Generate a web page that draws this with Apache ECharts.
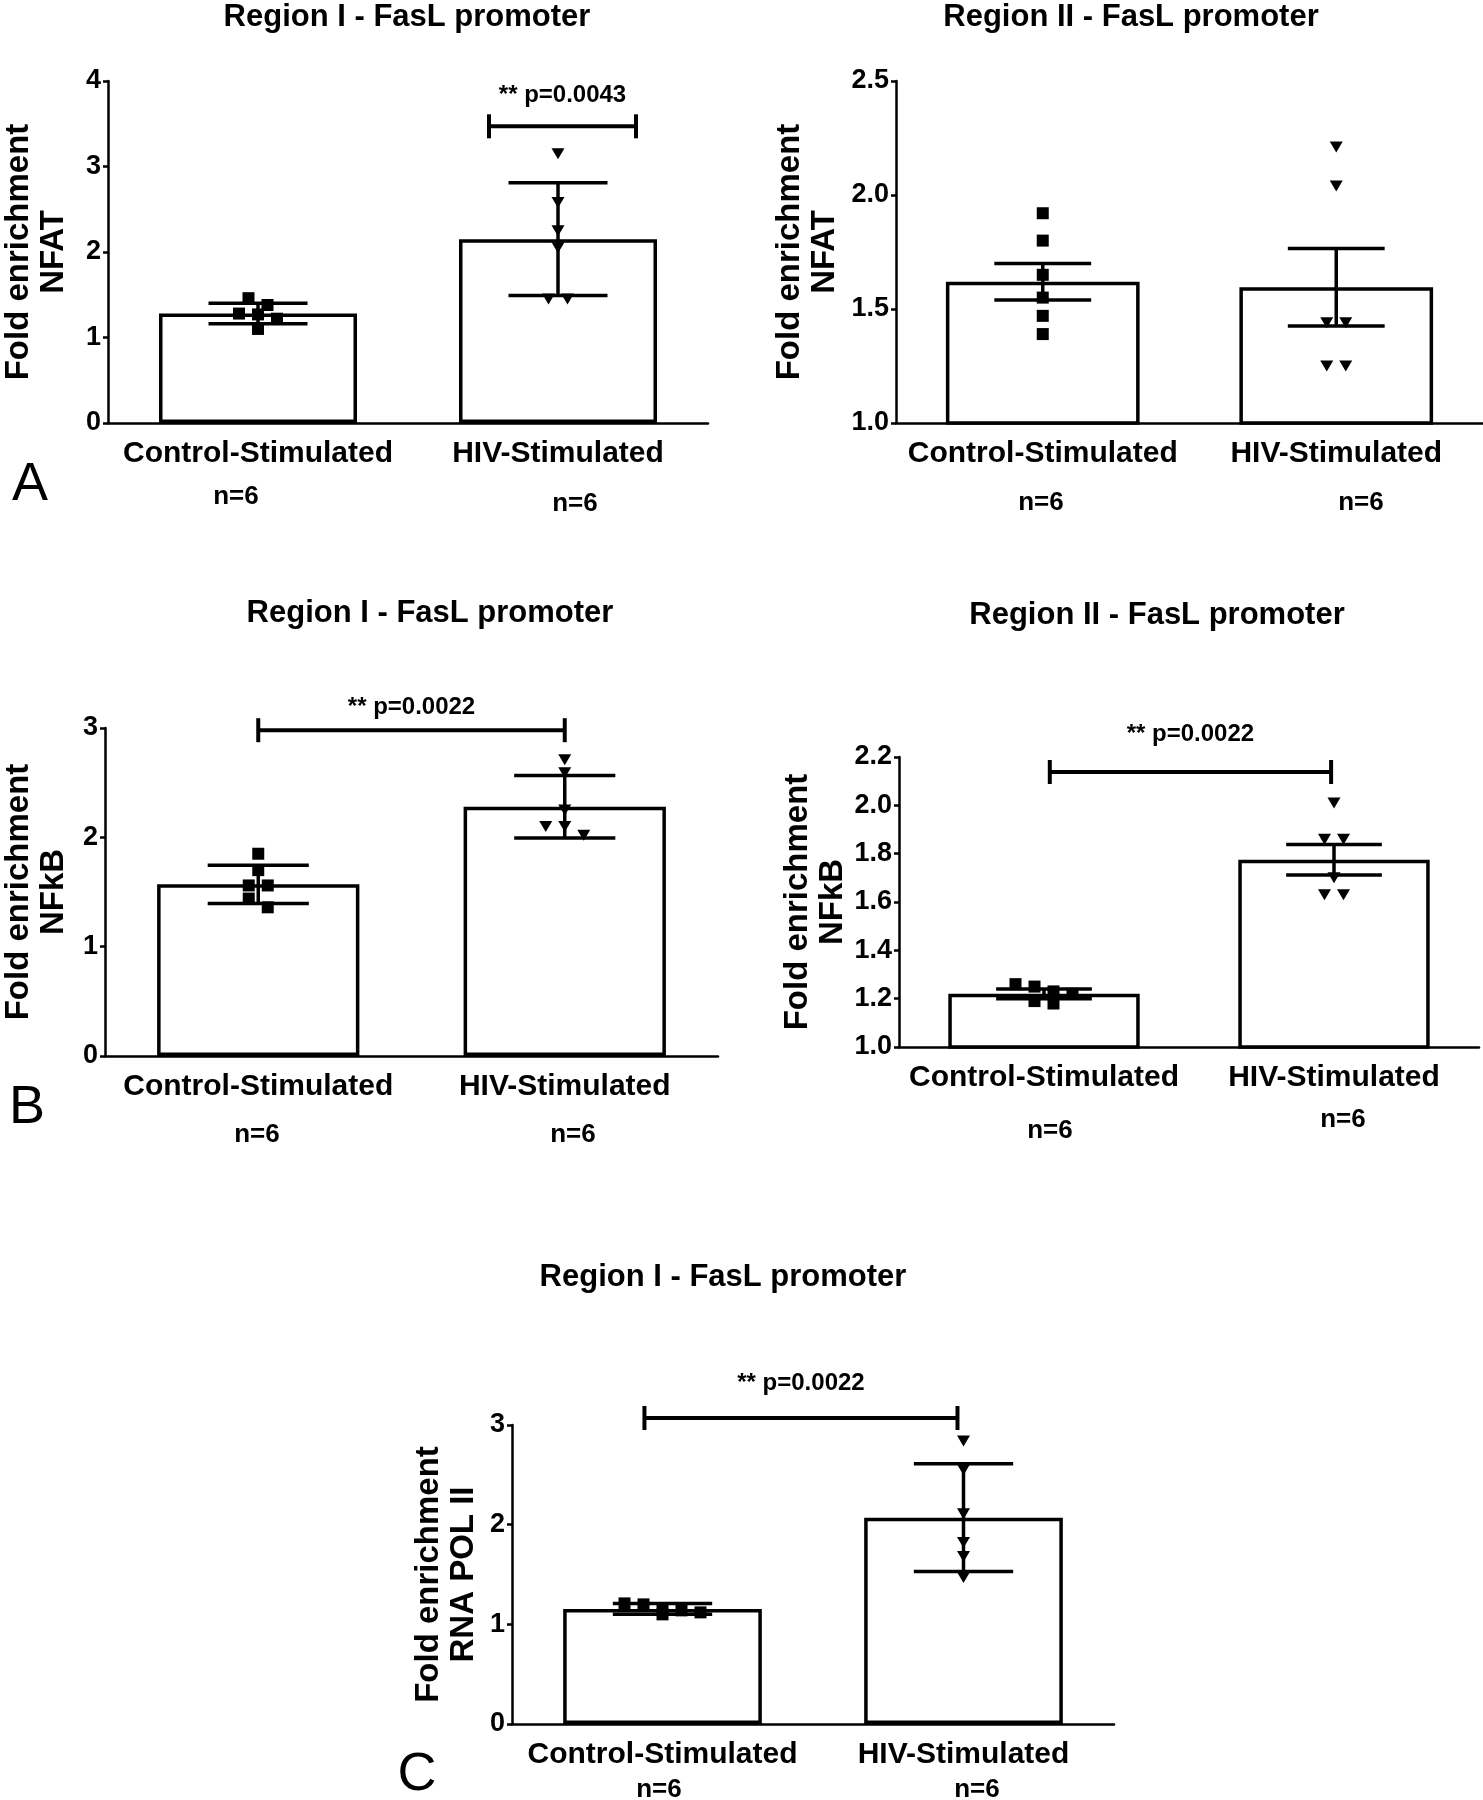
<!DOCTYPE html>
<html><head><meta charset="utf-8">
<script src="https://cdn.jsdelivr.net/npm/echarts@6.0.0/dist/echarts.min.js"></script>
<style>html,body{margin:0;padding:0;background:#fff}#c{width:1483px;height:1800px}</style>
</head><body><div id="c"></div>
<script>
// ---------------- data ----------------
const categories = ['Control-Stimulated', 'HIV-Stimulated'];
const titles = ['Region I - FasL promoter', 'Region II - FasL promoter', 'Region I - FasL promoter', 'Region II - FasL promoter', 'Region I - FasL promoter'];
const yLabels = ['Fold enrichment\nNFAT', 'Fold enrichment\nNFAT', 'Fold enrichment\nNFkB', 'Fold enrichment\nNFkB', 'Fold enrichment\nRNA POL II'];
const panelLetters = ['A', 'B', 'C'];

// A left: NFAT, region I (mean +/- SD)
const nfatR1Mean = [1.28, 2.15];
const nfatR1Err = [0.12, 0.66];
const nfatR1Ctrl = [1.46, 1.38, 1.28, 1.27, 1.22, 1.10];
const nfatR1Hiv = [3.15, 2.58, 2.25, 2.05, 1.45, 1.45];
const nfatR1Bracket = [0.77, 1.26, 3.47];
const nfatR1P = '** p=0.0043';
const nfatR1Ticks = [0, 4, 1];

// A right: NFAT, region II (mean +/- SEM)
const nfatR2Mean = [1.62, 1.595];
const nfatR2Err = [0.08, 0.17];
const nfatR2Ctrl = [1.92, 1.80, 1.65, 1.55, 1.47, 1.39];
const nfatR2Hiv = [2.21, 2.04, 1.44, 1.44, 1.25, 1.25];
const nfatR2Ticks = [1.0, 2.5, 0.5];

// B left: NFkB, region I
const nfkbR1Mean = [1.57, 2.28];
const nfkbR1Err = [0.175, 0.285];
const nfkbR1Ctrl = [1.85, 1.70, 1.56, 1.56, 1.44, 1.36];
const nfkbR1Hiv = [2.71, 2.59, 2.25, 2.10, 2.10, 2.02];
const nfkbR1Bracket = [0.0, 1.0, 2.98];
const nfkbR1P = '** p=0.0022';
const nfkbR1Ticks = [0, 3, 1];

// B right: NFkB, region II
const nfkbR2Mean = [1.22, 1.775];
const nfkbR2Err = [0.02, 0.063];
const nfkbR2Ctrl = [1.25, 1.18, 1.23, 1.19, 1.26, 1.22];
const nfkbR2Hiv = [2.01, 1.86, 1.86, 1.70, 1.63, 1.63];
const nfkbR2Bracket = [0.02, 0.99, 2.138];
const nfkbR2P = '** p=0.0022';
const nfkbR2Ticks = [1.0, 2.2, 0.2];

// C: RNA POL II, region I
const polR1Mean = [1.155, 2.07];
const polR1Err = [0.055, 0.54];
const polR1Ctrl = [1.21, 1.20, 1.14, 1.12, 1.10, 1.15];
const polR1Hiv = [2.84, 2.55, 2.11, 1.82, 1.68, 1.47];
const polR1Bracket = [-0.06, 0.98, 3.07];
const polR1P = '** p=0.0022';
const polR1Ticks = [0, 3, 1];

// ---------------- layout / style ----------------
const FONT = '"Liberation Sans", Arial, sans-serif';
const panels = [
  {grid: {left: 100, top: 81, width: 608, height: 342}, ticks: nfatR1Ticks, dec: 0,
   mean: nfatR1Mean, err: nfatR1Err, ctrl: nfatR1Ctrl, hiv: nfatR1Hiv, bracket: nfatR1Bracket, p: nfatR1P, pOff: 31,
   ylabel: yLabels[0], nameGap: 37, title: [407, 17], nPos: [[236, 497], [575, 504]]},
  {grid: {left: 896, top: 81, width: 590, height: 342}, ticks: nfatR2Ticks, dec: 1,
   mean: nfatR2Mean, err: nfatR2Err, ctrl: nfatR2Ctrl, hiv: nfatR2Hiv, bracket: null,
   ylabel: yLabels[1], nameGap: 54, title: [1131, 17], nPos: [[1041, 503], [1361, 503]]},
  {grid: {left: 98, top: 728, width: 620, height: 328}, ticks: nfkbR1Ticks, dec: 0,
   mean: nfkbR1Mean, err: nfkbR1Err, ctrl: nfkbR1Ctrl, hiv: nfkbR1Hiv, bracket: nfkbR1Bracket, p: nfkbR1P, pOff: 23,
   ylabel: yLabels[2], nameGap: 34, title: [430, 613], nPos: [[257, 1135], [573, 1135]]},
  {grid: {left: 899, top: 757, width: 580, height: 290}, ticks: nfkbR2Ticks, dec: 1,
   mean: nfkbR2Mean, err: nfkbR2Err, ctrl: nfkbR2Ctrl, hiv: nfkbR2Hiv, bracket: nfkbR2Bracket, p: nfkbR2P, pOff: 38,
   ylabel: yLabels[3], nameGap: 41, title: [1157, 615], nPos: [[1050, 1131], [1343, 1120]]},
  {grid: {left: 512, top: 1425, width: 602, height: 299}, ticks: polR1Ticks, dec: 0,
   mean: polR1Mean, err: polR1Err, ctrl: polR1Ctrl, hiv: polR1Hiv, bracket: polR1Bracket, p: polR1P, pOff: 35,
   ylabel: yLabels[4], nameGap: 31, title: [723, 1277], nPos: [[659, 1790], [977, 1790]]}
];
const letterPos = [[30, 485], [27, 1108], [417, 1775]];

const LW = 2.5;
const SYM = 12;
const SPACING = 19;

function swarm(ys) {
  const idx = ys.map((y, i) => i).sort((a, b) => ys[a] - ys[b]);
  const off = new Array(ys.length).fill(0);
  let row = [], rowY = null;
  const flush = () => row.forEach((k, j) => { off[k] = (j - (row.length - 1) / 2) * SPACING; });
  idx.forEach(k => {
    if (rowY !== null && Math.abs(ys[k] - rowY) < SYM * 0.85) row.push(k);
    else { if (row.length) flush(); row = [k]; rowY = ys[k]; }
  });
  if (row.length) flush();
  return off;
}

const grids = [], xAxes = [], yAxes = [], series = [], graphics = [];

panels.forEach((p, gi) => {
  grids.push(p.grid);
  xAxes.push({
    type: 'category', gridIndex: gi, data: categories, z: 6,
    axisLine: {lineStyle: {color: '#000', width: LW}},
    axisTick: {alignWithLabel: true, length: 9, lineStyle: {color: '#000', width: LW}},
    axisLabel: {interval: 0, color: '#000', fontFamily: FONT, fontWeight: 'bold', fontSize: 30, margin: 16, lineHeight: 30},
    splitLine: {show: false}
  });
  yAxes.push({
    type: 'value', gridIndex: gi, min: p.ticks[0], max: p.ticks[1], interval: p.ticks[2], z: 6,
    name: p.ylabel, nameLocation: 'middle', nameRotate: 90, nameGap: p.nameGap,
    nameTextStyle: {color: '#000', fontFamily: FONT, fontWeight: 'bold', fontSize: 33, lineHeight: 35},
    axisLine: {show: true, lineStyle: {color: '#000', width: LW}},
    axisTick: {show: true, length: 5, lineStyle: {color: '#000', width: LW}},
    axisLabel: {color: '#000', fontFamily: FONT, fontWeight: 'bold', fontSize: 27, margin: 7,
      formatter: v => v.toFixed(p.dec)},
    splitLine: {show: false}
  });
  // bars
  series.push({
    type: 'bar', xAxisIndex: gi, yAxisIndex: gi, data: p.mean, barWidth: '66%',
    itemStyle: {color: '#fff', borderColor: '#000', borderWidth: 3.5}, silent: true, z: 2
  });
  // error bars
  series.push({
    type: 'custom', xAxisIndex: gi, yAxisIndex: gi, clip: false, z: 3,
    data: p.mean.map((m, i) => [i, m + p.err[i], m - p.err[i]]),
    encode: {x: 0, y: [1, 2]},
    renderItem: (params, api) => {
      const i = api.value(0);
      const hi = api.coord([i, api.value(1)]);
      const lo = api.coord([i, api.value(2)]);
      const half = api.size([1, 0])[0] * 0.165;
      const st = {stroke: '#000', lineWidth: 3.5};
      return {type: 'group', children: [
        {type: 'line', shape: {x1: hi[0], y1: hi[1], x2: lo[0], y2: lo[1]}, style: st},
        {type: 'line', shape: {x1: hi[0] - half, y1: hi[1], x2: hi[0] + half, y2: hi[1]}, style: st},
        {type: 'line', shape: {x1: lo[0] - half, y1: lo[1], x2: lo[0] + half, y2: lo[1]}, style: st}
      ]};
    }
  });
  // individual points
  const groups = [p.ctrl, p.hiv];
  const pts = [];
  groups.forEach((g, c) => g.forEach((v, k) => pts.push([c, v, k])));
  series.push({
    type: 'custom', xAxisIndex: gi, yAxisIndex: gi, clip: false, z: 4,
    data: pts, encode: {x: 0, y: 1},
    renderItem: (params, api) => {
      const c = api.value(0), k = api.value(2);
      const g = groups[c];
      const ys = g.map(v => api.coord([c, v])[1]);
      const off = swarm(ys);
      const pt = api.coord([c, api.value(1)]);
      const x = pt[0] + off[k], y = pt[1];
      if (c === 0) {
        return {type: 'rect', shape: {x: x - SYM / 2, y: y - SYM / 2, width: SYM, height: SYM}, style: {fill: '#000'}};
      }
      return {type: 'polygon', shape: {points: [[x - 6.5, y - 5.5], [x + 6.5, y - 5.5], [x, y + 5.5]]}, style: {fill: '#000'}};
    }
  });
  // significance bracket
  if (p.bracket) {
    const b = p.bracket;
    series.push({
      type: 'custom', xAxisIndex: gi, yAxisIndex: gi, clip: false, z: 5,
      data: [[0, b[2], b[0], b[1]]], encode: {x: 0, y: 1},
      renderItem: (params, api) => {
        const c0 = api.coord([0, api.value(1)]);
        const c1 = api.coord([1, api.value(1)]);
        const step = c1[0] - c0[0];
        const xa = c0[0] + step * api.value(2), xb = c0[0] + step * api.value(3), y = c0[1];
        const st = {stroke: '#000', lineWidth: 4};
        return {type: 'group', children: [
          {type: 'line', shape: {x1: xa, y1: y, x2: xb, y2: y}, style: st},
          {type: 'line', shape: {x1: xa, y1: y - 12, x2: xa, y2: y + 12}, style: st},
          {type: 'line', shape: {x1: xb, y1: y - 12, x2: xb, y2: y + 12}, style: st},
          {type: 'text', x: (xa + xb) / 2, y: y - p.pOff,
           style: {text: p.p, fill: '#000', fontFamily: FONT, fontWeight: 'bold', fontSize: 24, align: 'center', verticalAlign: 'middle'}}
        ]};
      }
    });
  }
  // title
  graphics.push({type: 'text', x: p.title[0], y: p.title[1],
    style: {text: titles[gi], fill: '#000', fontFamily: FONT, fontWeight: 'bold', fontSize: 31, align: 'center', verticalAlign: 'middle'}});
  // n labels
  [p.ctrl, p.hiv].forEach((g, c) => {
    graphics.push({type: 'text', x: p.nPos[c][0], y: p.nPos[c][1],
      style: {text: 'n=' + g.length, fill: '#000', fontFamily: FONT, fontWeight: 'bold', fontSize: 26, align: 'center', verticalAlign: 'middle'}});
  });
});
panelLetters.forEach((t, i) => {
  graphics.push({type: 'text', x: letterPos[i][0], y: letterPos[i][1],
    style: {text: t, fill: '#000', fontFamily: FONT, fontWeight: 'normal', fontSize: 54, align: 'center', verticalAlign: 'middle'}});
});

const chart = echarts.init(document.getElementById('c'), null, {renderer: 'canvas'});
chart.setOption({
  backgroundColor: '#fff',
  animation: false,
  grid: grids, xAxis: xAxes, yAxis: yAxes, series: series,
  graphic: graphics
});
</script></body></html>
